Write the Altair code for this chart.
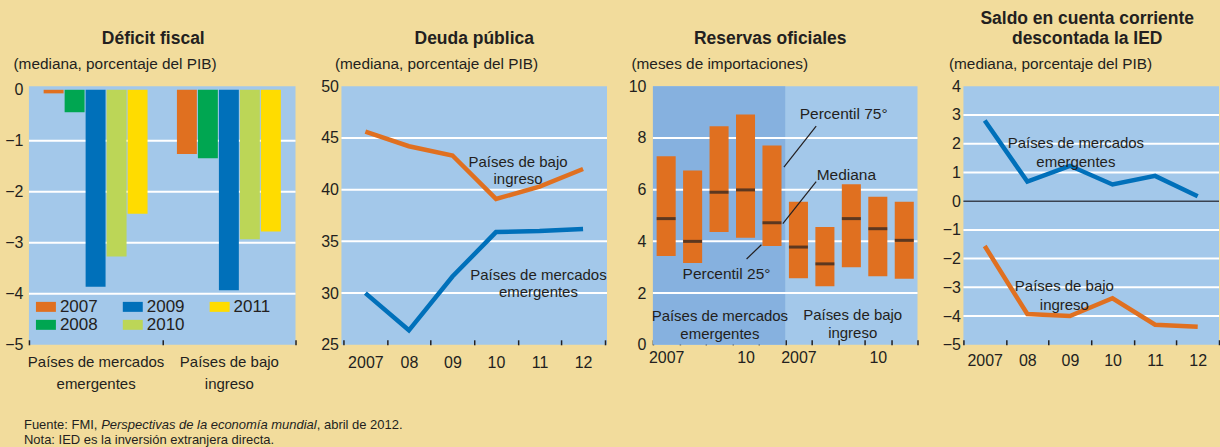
import json
import altair as alt
import pandas as pd

FONT = "Liberation Sans, Arial, Helvetica, sans-serif"
TXT = "#231F20"
BG = "#F2DC9C"
PLOT = "#A3C8EA"
DARK = "#86B1DF"
ORANGE = "#E07020"
BLUE = "#0070BA"
GREEN = "#00A651"
LGREEN = "#BCD657"
YELLOW = "#FFDC00"

# ---------------- data ----------------
# Panel 1: Déficit fiscal
groups = ["Países de mercados emergentes", "Países de bajo ingreso"]
group_lines = [["Países de mercados", "emergentes"], ["Países de bajo", "ingreso"]]
years1 = ["2007", "2008", "2009", "2010", "2011"]
deficit_em = [-0.07, -0.44, -3.86, -3.27, -2.43]
deficit_lic = [-1.26, -1.34, -3.93, -2.93, -2.78]
bar_colors = [ORANGE, GREEN, BLUE, LGREEN, YELLOW]
y1_ticks = [0, -1, -2, -3, -4, -5]
y1_grid = [-1, -2, -3, -4]

# Panel 2: Deuda pública
years = ["2007", "08", "09", "10", "11", "12"]
deuda_lic = [45.6, 44.2, 43.3, 39.1, 40.3, 42.0]
deuda_em = [30.0, 26.4, 31.6, 35.9, 36.0, 36.2]
y2_ticks = [25, 30, 35, 40, 45, 50]
y2_grid = [30, 35, 40, 45]
lab2_text = ["Países de bajo\ningreso", "Países de mercados\nemergentes"]
lab2_x = [3.99, 4.45]
lab2_y = [42.67, 31.74]

# Panel 3: Reservas oficiales
res_groups = ["EM", "LIC"]
res_years = ["2007", "2008", "2009", "2010", "2011"]
x3_tick_labels = ["2007", "", "", "10", "", "2007", "", "", "10", ""]
res_p75 = [7.29, 6.74, 8.45, 8.91, 7.71, 5.53, 4.56, 6.21, 5.73, 5.53]
res_p25 = [3.43, 3.16, 4.36, 4.14, 3.82, 2.57, 2.26, 3.00, 2.65, 2.55]
res_med = [4.88, 4.00, 5.90, 5.99, 4.72, 3.78, 3.13, 4.88, 4.49, 4.04]
y3_ticks = [0, 2, 4, 6, 8, 10]
y3_grid = [2, 4, 6, 8]
ann_text = ["Percentil 75°", "Mediana", "Percentil 25°"]
ann_tx = [5.55, 6.19, 1.12]
ann_ty = [8.92, 6.55, 2.74]
ann_x1 = [6.17, 6.17, 3.54]
ann_y1 = [8.46, 6.31, 3.32]
ann_x2 = [4.95, 4.91, 4.10]
ann_y2 = [6.87, 4.69, 3.87]
lab3_text = ["Países de mercados\nemergentes", "Países de bajo\ningreso"]
lab3_x = [2.53, 7.55]
lab3_y = [1.10, 1.17]

# Panel 4: Saldo en cuenta corriente descontada la IED
cc_em = [2.81, 0.68, 1.23, 0.58, 0.88, 0.17]
cc_lic = [-1.56, -3.93, -4.00, -3.38, -4.30, -4.37]
y4_ticks = [4, 3, 2, 1, 0, -1, -2, -3, -4, -5]
y4_grid = [3, 2, 1, -1, -2, -3, -4]
lab4_text = ["Países de mercados\nemergentes", "Países de bajo\ningreso"]
lab4_x = [2.64, 2.37]
lab4_y = [2.03, -2.97]

footer1 = ["Fuente: FMI, ", "Perspectivas de la economía mundial", ", abril de 2012."]
footer2 = "Nota: IED es la inversión extranjera directa."

H = 259


# ---------------- helpers ----------------
def yaxis(values, subtitle, title_x, pad):
    return alt.Axis(values=values, grid=False, domain=False, ticks=False,
                    labelPadding=pad, labelFontSize=16, labelColor=TXT, labelFont=FONT,
                    title=subtitle, titleAngle=0, titleAlign="left", titleBaseline="middle",
                    titleX=title_x, titleY=-23, titleFont=FONT, titleFontSize=15.4,
                    titleFontWeight="normal", titleColor=TXT)


def xaxis(pad, size=16, **kw):
    return alt.Axis(title=None, labelAngle=0, domain=False, grid=False, ticks=True,
                    tickBand="extent", tickSize=5, tickWidth=1.5, tickColor=TXT, offset=-5,
                    labelPadding=pad, labelFontSize=size, labelColor=TXT, labelFont=FONT, **kw)


def title(text, dx):
    return alt.TitleParams(text=text, anchor="middle", frame="group", fontSize=17.5,
                           fontWeight="bold", font=FONT, color=TXT, offset=-9, dx=dx,
                           baseline="bottom", lineHeight=20)


def grid_layer(vals, yenc):
    return alt.Chart(pd.DataFrame({"v": vals})).mark_rule(color="white", strokeWidth=2).encode(
        y=yenc("v:Q"))


def quant_x(field, n):
    return alt.X(field, scale=alt.Scale(domain=[0, n], nice=False, zero=False), axis=None)


# ---------------- panel 1 ----------------
rows = []
for g, vals in zip(groups, [deficit_em, deficit_lic]):
    for yr, v in zip(years1, vals):
        rows.append({"grupo": g, "año": yr, "valor": v})
df1 = pd.DataFrame(rows)
ax1 = yaxis(y1_ticks, "(mediana, porcentaje del PIB)", -16, 6)


def y1(f):
    return alt.Y(f, scale=alt.Scale(domain=[-5, 0.07], nice=False, zero=False), axis=ax1)


label_map = json.dumps(dict(zip(groups, group_lines)), ensure_ascii=False)
bars = alt.Chart(df1).mark_bar().encode(
    x=alt.X("grupo:N", sort=groups,
            scale=alt.Scale(type="band", paddingInner=0, paddingOuter=0),
            axis=xaxis(10, size=15, labelExpr=label_map + "[datum.label]", labelLineHeight=22)),
    xOffset=alt.XOffset("año:N", sort=years1,
                        scale=alt.Scale(paddingInner=0.05, paddingOuter=0.7)),
    y=y1("valor:Q"),
    color=alt.Color("año:N", scale=alt.Scale(domain=years1, range=bar_colors),
                    legend=alt.Legend(title=None, orient="none", legendX=7, legendY=211,
                                      columns=3, columnPadding=25, rowPadding=0,
                                      symbolType="M-1,-0.5H1V0.5H-1Z", symbolSize=400,
                                      symbolStrokeWidth=0, labelOffset=4,
                                      labelFontSize=17, labelFont=FONT, labelColor=TXT)),
)

foot_x = [-5, 72.3, 288.3]
foot_style = ["normal", "italic", "normal"]
foot_layers = []
for t, fx, st in zip(footer1, foot_x, foot_style):
    foot_layers.append(alt.Chart(pd.DataFrame({"t": [t]})).mark_text(
        align="left", baseline="middle", fontSize=13, font=FONT, color=TXT, fontStyle=st
    ).encode(x=alt.value(fx), y=alt.value(339), text="t:N"))
foot_layers.append(alt.Chart(pd.DataFrame({"t": [footer2]})).mark_text(
    align="left", baseline="middle", fontSize=13, font=FONT, color=TXT
).encode(x=alt.value(-5), y=alt.value(354), text="t:N"))

p1 = alt.layer(grid_layer(y1_grid, y1), bars, *foot_layers).properties(
    width=267, height=H, title=title("Déficit fiscal", -9))

# ---------------- panel 2 ----------------
df2 = pd.DataFrame({"año": years * 2, "valor": deuda_lic + deuda_em,
                    "serie": ["lic"] * len(years) + ["em"] * len(years)})
ax2 = yaxis(y2_ticks, "(mediana, porcentaje del PIB)", -7, 3)


def y2(f):
    return alt.Y(f, scale=alt.Scale(domain=[25, 50], nice=False, zero=False), axis=ax2)


lines2 = alt.Chart(df2).mark_line(strokeWidth=4.5).encode(
    x=alt.X("año:N", sort=years, bandPosition=0.5,
            scale=alt.Scale(type="band", paddingInner=0, paddingOuter=0.05), axis=xaxis(10)),
    y=y2("valor:Q"),
    color=alt.Color("serie:N", scale=alt.Scale(domain=["lic", "em"], range=[ORANGE, BLUE]),
                    legend=None),
    detail="serie:N",
)
text2 = alt.Chart(pd.DataFrame({"t": lab2_text, "x": lab2_x, "y": lab2_y})).mark_text(
    align="center", baseline="middle", fontSize=15, font=FONT, color=TXT, lineBreak="\n",
    lineHeight=17).encode(x=quant_x("x:Q", len(years)), y=y2("y:Q"), text="t:N")

p2 = alt.layer(grid_layer(y2_grid, y2), lines2, text2).resolve_scale(x="independent").properties(
    width=266, height=H, title=title("Deuda pública", 0))

# ---------------- panel 3 ----------------
cats3 = [g + y for g in res_groups for y in res_years]
df3 = pd.DataFrame({"cat": cats3, "p75": res_p75, "p25": res_p25, "med": res_med})
ax3 = yaxis(y3_ticks, "(meses de importaciones)", -22, 7)


def y3(f):
    return alt.Y(f, scale=alt.Scale(domain=[0, 10], nice=False, zero=False), axis=ax3)


n3 = len(cats3)
x3_map = json.dumps({c: l for c, l in zip(cats3, x3_tick_labels) if l}, ensure_ascii=False)
x3 = alt.X("cat:N", sort=cats3, scale=alt.Scale(type="band", paddingInner=0, paddingOuter=0),
           axis=xaxis(4.5, labelExpr=x3_map + "[datum.label] || ''"))
dark = alt.Chart(pd.DataFrame({"x0": [0], "x1": [len(res_years)], "y0": [0], "y1": [10]})).mark_rect(
    color=DARK).encode(x=quant_x("x0:Q", n3), x2="x1:Q", y=y3("y0:Q"), y2="y1:Q")
boxes = alt.Chart(df3).mark_bar(color=ORANGE, width={"band": 0.72}).encode(
    x=x3, y=y3("p25:Q"), y2="p75:Q")
meds = alt.Chart(df3).mark_tick(color=TXT, thickness=3, size=19).encode(x=x3, y=y3("med:Q"))
band3 = alt.layer(boxes, meds)
ann_df = pd.DataFrame({"t": ann_text, "tx": ann_tx, "ty": ann_ty, "x1": ann_x1, "y1": ann_y1,
                       "x2": ann_x2, "y2": ann_y2})
ann_rules = alt.Chart(ann_df).mark_rule(color=TXT, strokeWidth=1.2).encode(
    x=quant_x("x1:Q", n3), y=y3("y1:Q"), x2="x2:Q", y2="y2:Q")
ann_txt = alt.Chart(ann_df).mark_text(align="left", baseline="middle", fontSize=15.5, font=FONT,
                                      color=TXT).encode(
    x=quant_x("tx:Q", n3), y=y3("ty:Q"), text="t:N")
lab3 = alt.Chart(pd.DataFrame({"t": lab3_text, "x": lab3_x, "y": lab3_y})).mark_text(
    align="center", baseline="middle", fontSize=15, font=FONT, color=TXT, lineBreak="\n",
    lineHeight=18).encode(x=quant_x("x:Q", n3), y=y3("y:Q"), text="t:N")

p3 = alt.layer(dark, grid_layer(y3_grid, y3), band3, ann_rules, ann_txt, lab3).resolve_scale(
    x="independent").properties(width=265, height=H, title=title("Reservas oficiales", -15))

# ---------------- panel 4 ----------------
df4 = pd.DataFrame({"año": years * 2, "valor": cc_em + cc_lic,
                    "serie": ["em"] * len(years) + ["lic"] * len(years)})
ax4 = yaxis(y4_ticks, "(mediana, porcentaje del PIB)", -15, 3)


def y4(f):
    return alt.Y(f, scale=alt.Scale(domain=[-5, 4], nice=False, zero=False), axis=ax4)


zero4 = alt.Chart(pd.DataFrame({"v": [0]})).mark_rule(color="#3A4250", strokeWidth=1.5).encode(
    y=y4("v:Q"))
lines4 = alt.Chart(df4).mark_line(strokeWidth=4.5).encode(
    x=alt.X("año:N", sort=years, bandPosition=0.5,
            scale=alt.Scale(type="band", paddingInner=0, paddingOuter=0), axis=xaxis(7.5)),
    y=y4("valor:Q"),
    color=alt.Color("serie:N", scale=alt.Scale(domain=["lic", "em"], range=[ORANGE, BLUE]),
                    legend=None),
    detail="serie:N",
)
text4 = alt.Chart(pd.DataFrame({"t": lab4_text, "x": lab4_x, "y": lab4_y})).mark_text(
    align="center", baseline="middle", fontSize=15, font=FONT, color=TXT, lineBreak="\n",
    lineHeight=19).encode(x=quant_x("x:Q", len(years)), y=y4("y:Q"), text="t:N")

p4 = alt.layer(grid_layer(y4_grid, y4), zero4, lines4, text4).resolve_scale(
    x="independent").properties(
    width=256, height=H,
    title=title(["Saldo en cuenta corriente", "descontada la IED"], -4))

chart = alt.hconcat(p1, p2, p3, p4, spacing=46, bounds="flush").resolve_scale(
    color="independent"
).properties(
    background=BG, padding={"left": 4, "top": 9, "right": 0, "bottom": 0}
).configure(font=FONT).configure_view(stroke=None, fill=PLOT)

chart.save("out.html", embed_options={"renderer": "svg", "actions": False})
